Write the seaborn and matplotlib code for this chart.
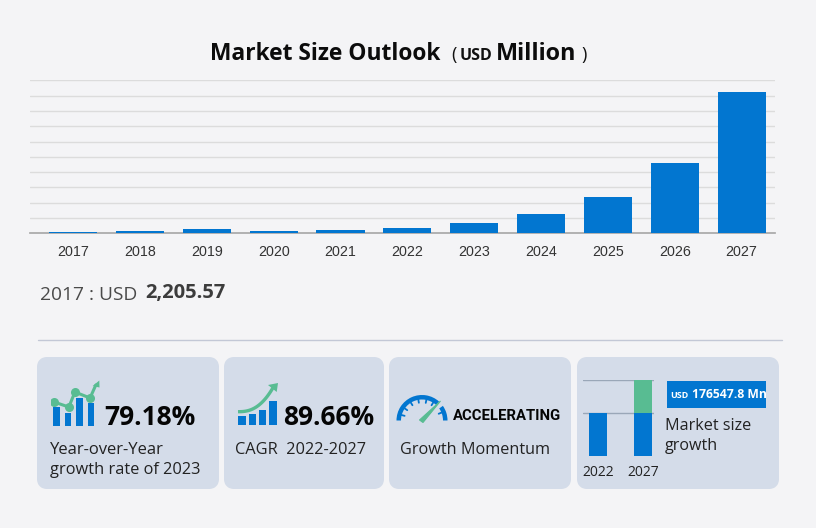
import numpy as np
import pandas as pd
import matplotlib
matplotlib.use('Agg')
import matplotlib.pyplot as plt
from matplotlib.patches import FancyBboxPatch, Wedge, Polygon
import seaborn as sns

years = ['2017', '2018', '2019', '2020', '2021', '2022', '2023', '2024', '2025', '2026', '2027']
market_size = [2205.57, 3000, 5200, 3000, 4300, 7510, 13456, 25200, 47000, 91500, 184060]
y_ticks = [0, 20000, 40000, 60000, 80000, 100000, 120000, 140000, 160000, 180000, 200000]

mini_years = ['2022', '2027']
mini_base = [43, 43]
mini_growth = [0, 33]

yoy_icon_bars = [19, 13, 28, 23]
yoy_icon_line_x = [-0.2, 1.08, 1.6, 2.9, 3.4]
yoy_icon_line_y = [24, 19, 34, 28, 41]
cagr_icon_bars = [9, 11.5, 15.5, 24]

BG = '#f4f4f6'
CARD = '#d4dce9'
BLUE = '#0276d0'
GREEN = '#58bc92'
W, H = 816, 528

sns.set_theme(style='white', rc={'axes.facecolor': 'none', 'figure.facecolor': BG})
plt.rcParams['font.family'] = ['Open Sans', 'DejaVu Sans']


def px_axes(fig, x0, y0, x1, y1):
    # axes placed by reference pixels
    ax = fig.add_axes([x0 / W, 1 - y1 / H, (x1 - x0) / W, (y1 - y0) / H])
    ax.patch.set_alpha(0)
    return ax


def main():
    fig = plt.figure(figsize=(W / 100, H / 100), dpi=100)

    # overlay in pixel coordinates for cards and text
    ov = px_axes(fig, 0, 0, W, H)
    ov.set_xlim(0, W)
    ov.set_ylim(H, 0)
    ov.axis('off')

    for x0, x1 in [(37, 219), (224, 384), (389, 571), (577, 779)]:
        ov.add_patch(FancyBboxPatch((x0 + 5, 362), x1 - x0 - 10, 122,
                                    boxstyle='round,pad=0,rounding_size=5', mutation_scale=1,
                                    fc=CARD, ec=CARD, lw=10 * 0.72, joinstyle='round'))
    ov.plot([38, 782], [340, 340], color='#c3c8d6', lw=1)

    # main chart
    ax = px_axes(fig, 30, 80.3, 775, 233.3)
    df = pd.DataFrame({'year': years, 'size': market_size})
    sns.barplot(data=df, x='year', y='size', color=BLUE, width=0.72, saturation=1,
                edgecolor='none', linewidth=0, ax=ax, zorder=3)
    ax.set_xlim(-0.645, 10.5)
    ax.set_ylim(0, 200000)
    ax.set_yticks(y_ticks)
    ax.set_yticklabels([])
    ax.set_xlabel('')
    ax.set_ylabel('')
    ax.grid(axis='y', color='#dcdcdc', lw=1)
    sns.despine(ax=ax, left=True, top=True, right=True)
    ax.spines['bottom'].set_color('#a9a9a9')
    ax.tick_params(axis='both', length=0)
    ax.tick_params(axis='x', pad=8.3, labelsize=10.3, labelcolor='#333333')
    for lab in ax.get_xticklabels():
        lab.set_fontfamily(['Liberation Sans'])

    # title
    ov.text(325.5, 53.5, 'Market Size Outlook', ha='center', va='center', fontsize=16.4,
            fontweight='bold', color='#0c0c0c')
    ov.text(451, 55, '(', ha='left', va='center', fontsize=13, color='#111111')
    ov.text(460, 56, 'USD', ha='left', va='center', fontsize=11.5, fontweight='bold', color='#111111')
    ov.text(495.5, 53.5, 'Million', ha='left', va='center', fontsize=16.8, fontweight='bold', color='#0c0c0c')
    ov.text(581, 55, ')', ha='left', va='center', fontsize=13, color='#111111')

    ov.text(40, 294.5, '2017 : USD', ha='left', va='center', fontsize=13.8, color='#4a4a4a')
    ov.text(145, 293, '2,205.57', ha='left', va='center', fontsize=14.5, fontweight='bold', color='#3c3c3c')

    # card text
    ov.text(104.5, 417.5, '79.18%', ha='left', va='center', fontsize=19, fontweight='bold', color='#050505')
    ov.text(50, 450.5, 'Year-over-Year', ha='left', va='center', fontsize=12, color='#222222')
    ov.text(50, 470.5, 'growth rate of 2023', ha='left', va='center', fontsize=11.8, color='#222222')
    ov.text(283, 417.5, '89.66%', ha='left', va='center', fontsize=19, fontweight='bold', color='#050505')
    ov.text(235, 450.5, 'CAGR  2022-2027', ha='left', va='center', fontsize=11.8, color='#222222')
    ov.text(453, 416.5, 'ACCELERATING', ha='left', va='center', fontsize=10.7, fontweight='bold',
            color='#050505', family=['Roboto'])
    ov.text(400, 450.5, 'Growth Momentum', ha='left', va='center', fontsize=11.7, color='#222222')

    # year-over-year icon
    ic = px_axes(fig, 50.5, 376, 97, 426)
    sns.barplot(x=list(range(4)), y=yoy_icon_bars, color=BLUE, width=0.55, saturation=1,
                edgecolor='none', linewidth=0, ax=ic)
    il = px_axes(fig, 50.5, 376, 97, 426)
    sns.lineplot(x=yoy_icon_line_x, y=yoy_icon_line_y, color=GREEN, lw=2.2, marker='o', markersize=6.5,
                 markeredgewidth=0, markevery=[0, 1, 2, 3], sort=False, estimator=None, ax=il)
    for a in (ic, il):
        a.set_xlim(-0.5, 3.5)
        a.set_ylim(0, 50)
        a.axis('off')
    ov.add_patch(Polygon([[92.7, 386], [99.3, 380.5], [99.5, 387.5]], fc=GREEN, ec='none'))

    # cagr icon
    ic2 = px_axes(fig, 237, 383, 278, 425)
    sns.barplot(x=list(range(4)), y=cagr_icon_bars, color=BLUE, width=0.72, saturation=1,
                edgecolor='none', linewidth=0, ax=ic2)
    ic2.set_xlim(-0.5, 3.5)
    ic2.set_ylim(0, 42)
    ic2.axis('off')
    t = np.linspace(0, 1, 30)
    ov.plot(238 + 35 * t, 411.7 - 24 * t ** 2.5, color=GREEN, lw=2.4, solid_capstyle='butt')
    ov.add_patch(Polygon([[268, 385], [278, 383], [276.7, 392]], fc=GREEN, ec='none'))

    # gauge icon
    ov.add_patch(Wedge((422, 420.5), 25.5, 180, 312, width=4.5, fc=BLUE, ec='none'))
    ov.add_patch(Wedge((422, 420.5), 25.5, 325, 360, width=4.5, fc=BLUE, ec='none'))
    for a in np.deg2rad([165, 145, 122, 100, 78, 58, 22]):
        ov.plot([422 + 21.5 * np.cos(a), 422 + 18 * np.cos(a)], [420.5 - 21.5 * np.sin(a), 420.5 - 18 * np.sin(a)],
                color=BLUE, lw=1.3)
    ov.add_patch(Polygon([[419.5, 420], [423, 422.5], [440.5, 401]], fc=GREEN, ec=GREEN, lw=0.8))

    # market size growth mini chart
    mini = px_axes(fig, 583, 380, 654, 456)
    mf = pd.DataFrame({'year': mini_years, 'base': mini_base, 'growth': mini_growth})
    sns.barplot(data=mf, x='year', y='base', color=BLUE, width=0.38, saturation=1,
                edgecolor='none', linewidth=0, ax=mini, zorder=3)
    mini.bar(mf['year'], mf['growth'], bottom=mf['base'], color=GREEN, width=0.38, linewidth=0, zorder=3)
    mini.set_xlim(-0.333, 1.244)
    mini.set_ylim(0, 76)
    mini.set_yticks([43, 76])
    mini.set_yticklabels([])
    mini.set_xlabel('')
    mini.set_ylabel('')
    mini.grid(axis='y', color='#9aa7b8', lw=1)
    sns.despine(ax=mini, left=True, top=True, right=True, bottom=True)
    mini.tick_params(axis='both', length=0)
    mini.tick_params(axis='x', pad=6.5, labelsize=10, labelcolor='#222222')

    ov.add_patch(plt.Rectangle((667, 381), 99, 27, fc=BLUE, ec='none'))
    ov.text(670, 395.5, 'USD', ha='left', va='center', fontsize=6.5, fontweight='bold', color='white')
    ov.text(692, 395, '176547.8 Mn', ha='left', va='center', fontsize=8.7, fontweight='bold', color='white')
    ov.text(665, 425.5, 'Market size', ha='left', va='center', fontsize=11.6, color='#222222')
    ov.text(665, 445.5, 'growth', ha='left', va='center', fontsize=11.6, color='#222222')

    fig.savefig('out.png', dpi=100, facecolor=BG)
    plt.close(fig)


if __name__ == '__main__':
    main()
